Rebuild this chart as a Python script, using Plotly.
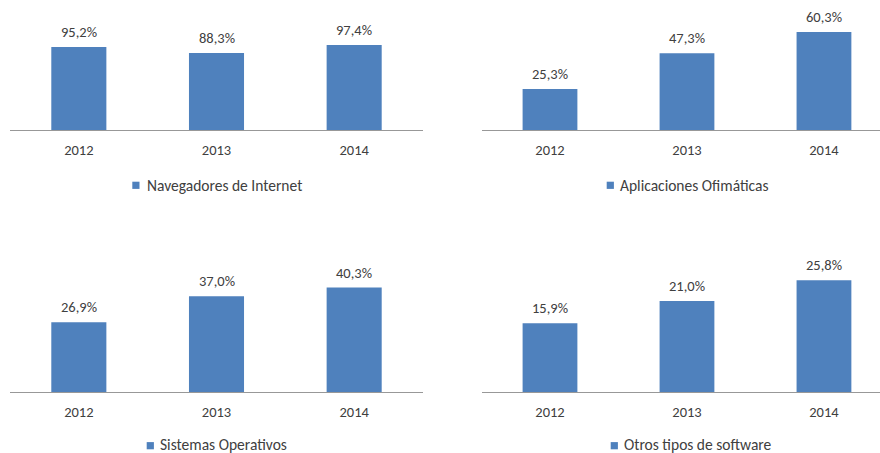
import plotly.graph_objects as go

years = ["2012", "2013", "2014"]
series_names = ["Navegadores de Internet", "Aplicaciones Ofimáticas",
                "Sistemas Operativos", "Otros tipos de software"]
navegadores = [95.2, 88.3, 97.4]
ofimaticas = [25.3, 47.3, 60.3]
sistemas = [26.9, 37.0, 40.3]
otros = [15.9, 21.0, 25.8]
series_values = [navegadores, ofimaticas, sistemas, otros]

W, H = 880, 453
BAR = "#4F81BD"
TXT = "#404040"
FONT = "Carlito, Calibri, Lato, Liberation Sans, Arial, sans-serif"

# panel geometry in pixels: (x_left, x_right, baseline_y, top_y, yrange_max, xrange_max)
panels = [
    (10, 423, 130, 25.4, 120, 2.5),
    (481.5, 880, 130, 16.25, 70, 2.409),
    (10, 423, 392, 275.45, 45, 2.5),
    (481.5, 880, 392, 262.1, 30, 2.409),
]
# manual legend: (square_left_px, text_left_px, center_y_px, square_center_y_px)
legend_pos = [
    (132.3, 145.5, 185.3, 185.3),
    (606.7, 618.5, 185.3, 185.3),
    (146.7, 158.5, 444.2, 445.7),
    (610.7, 622.5, 444.2, 445.7),
]

fig = go.Figure()
annotations = []
shapes = []
layout = {}
for i, (name, vals) in enumerate(zip(series_names, series_values)):
    xl, xr, base, top, ymax, xmax = panels[i]
    n = "" if i == 0 else str(i + 1)
    fig.add_trace(go.Bar(
        x=years, y=vals, name=name, marker=dict(color=BAR, line=dict(width=0)),
        xaxis=f"x{n}", yaxis=f"y{n}", showlegend=False, hoverinfo="skip",
    ))
    layout[f"xaxis{n}"] = dict(
        type="category", domain=[xl / W, xr / W], anchor=f"y{n}", range=[-0.5, xmax],
        showline=True, linecolor="#989898", linewidth=1, showgrid=False,
        zeroline=False, ticks="outside", ticklen=7, tickcolor="rgba(0,0,0,0)",
        tickfont=dict(family=FONT, size=14.5, color=TXT), fixedrange=True,
    )
    layout[f"yaxis{n}"] = dict(
        domain=[1 - base / H, 1 - top / H], anchor=f"x{n}", range=[0, ymax],
        visible=False, showgrid=False, zeroline=False, fixedrange=True,
    )
    for k, v in enumerate(vals):
        annotations.append(dict(
            x=k, y=v, xref=f"x{n}", yref=f"y{n}",
            text=f"{v:.1f}".replace(".", ",") + "%",
            showarrow=False, yanchor="bottom", yshift=4,
            font=dict(family=FONT, size=14.5, color=TXT),
        ))
    sq, tx, cy, sy = legend_pos[i]
    shapes.append(dict(
        type="rect", xref="paper", yref="paper",
        x0=sq / W, x1=(sq + 7.2) / W, y0=1 - (sy + 3.6) / H, y1=1 - (sy - 3.6) / H,
        fillcolor=BAR, line=dict(width=0),
    ))
    annotations.append(dict(
        x=tx / W, y=1 - cy / H, xref="paper", yref="paper",
        text=name, showarrow=False, xanchor="left", yanchor="middle", borderpad=0,
        font=dict(family=FONT, size=15.5, color=TXT),
    ))

fig.update_layout(
    width=W, height=H, margin=dict(l=0, r=0, t=0, b=0),
    paper_bgcolor="white", plot_bgcolor="white", showlegend=False,
    bargap=0.6, annotations=annotations, shapes=shapes, **layout,
)
fig.write_html(
    "out.html",
    config={"displayModeBar": False},
    post_script="document.body.style.margin='0';document.body.style.overflow='hidden';",
)
